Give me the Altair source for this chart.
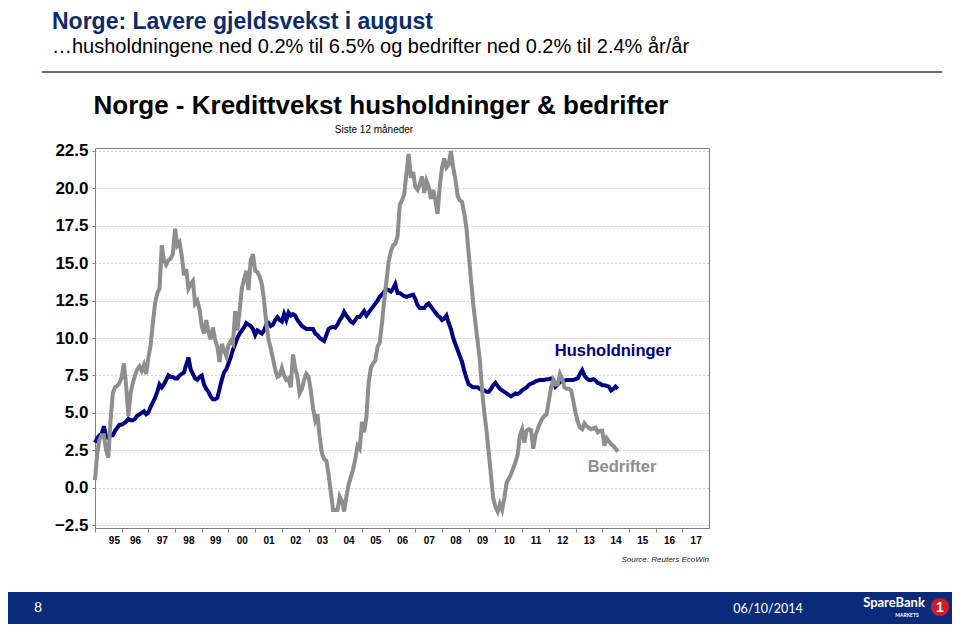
import altair as alt
import pandas as pd

# ---- data (monthly, % y/y) ----
years = list(range(1995, 2015))
hus = {
    1995: [3.0, 3.3, 3.5, 3.6, 4.1, 3.4, 3.3, 3.5, 3.5, 3.8, 4.0, 4.2],
    1996: [4.2, 4.3, 4.4, 4.6, 4.5, 4.5, 4.6, 4.8, 4.9, 5.0, 5.1, 4.9],
    1997: [5.0, 5.4, 5.7, 6.0, 6.4, 6.9, 6.7, 6.9, 7.2, 7.5, 7.4, 7.4],
    1998: [7.3, 7.3, 7.5, 7.6, 7.7, 8.2, 8.7, 7.9, 7.6, 7.3, 7.2, 7.4],
    1999: [7.5, 6.9, 6.6, 6.4, 6.1, 5.9, 5.9, 6.0, 6.6, 7.2, 7.7, 7.9],
    2000: [8.3, 8.7, 9.2, 9.6, 10.0, 10.3, 10.5, 10.7, 11.0, 10.9, 10.8, 10.6],
    2001: [10.2, 10.5, 10.4, 10.3, 10.5, 10.9, 11.0, 10.8, 10.9, 11.2, 11.4, 11.2],
    2002: [11.1, 11.6, 11.2, 11.7, 11.5, 11.6, 11.5, 11.2, 11.0, 10.8, 10.7, 10.6],
    2003: [10.6, 10.6, 10.6, 10.3, 10.2, 10.0, 9.9, 9.8, 10.2, 10.6, 10.7, 10.75],
    2004: [10.7, 10.9, 11.2, 11.4, 11.75, 11.5, 11.3, 11.1, 11.0, 11.2, 11.4, 11.4],
    2005: [11.6, 11.8, 11.5, 11.7, 11.9, 12.1, 12.3, 12.5, 12.75, 12.9, 13.1, 13.25],
    2006: [13.2, 13.1, 13.3, 13.6, 13.0, 13.0, 12.9, 12.8, 12.75, 12.8, 12.85, 12.9],
    2007: [12.6, 12.2, 12.0, 12.0, 12.0, 12.2, 12.3, 12.1, 11.9, 11.7, 11.5, 11.4],
    2008: [11.2, 11.3, 11.5, 11.0, 10.6, 10.0, 9.6, 9.2, 8.8, 8.4, 7.8, 7.3],
    2009: [6.9, 6.8, 6.7, 6.7, 6.7, 6.6, 6.5, 6.5, 6.4, 6.4, 6.6, 6.85],
    2010: [7.0, 6.8, 6.6, 6.5, 6.4, 6.3, 6.2, 6.1, 6.2, 6.3, 6.25, 6.35],
    2011: [6.5, 6.6, 6.7, 6.85, 6.95, 7.0, 7.1, 7.15, 7.2, 7.2, 7.2, 7.25],
    2012: [7.25, 7.3, 7.2, 6.75, 6.9, 7.05, 7.1, 7.15, 7.2, 7.2, 7.2, 7.2],
    2013: [7.25, 7.3, 7.6, 7.85, 7.5, 7.3, 7.2, 7.2, 7.25, 7.15, 7.0, 6.95],
    2014: [6.85, 6.85, 6.8, 6.75, 6.5, 6.6, 6.75, 6.6],
}
bed = {
    1995: [0.5, 2.3, 3.2, 3.5, 3.5, 2.5, 2.0, 4.5, 6.3, 6.7, 6.8, 7.0],
    1996: [7.4, 8.3, 6.8, 4.8, 6.3, 7.0, 7.5, 7.9, 8.1, 7.8, 8.2, 7.6],
    1997: [8.7, 9.5, 11.0, 12.3, 13.0, 13.3, 16.2, 15.2, 14.9, 15.2, 15.3, 15.6],
    1998: [17.3, 16.2, 16.4, 15.5, 14.2, 14.6, 13.3, 13.6, 13.8, 12.3, 12.5, 11.9],
    1999: [10.8, 10.3, 11.2, 10.4, 9.9, 10.7, 9.9, 9.4, 8.4, 9.6, 9.2, 8.8],
    2000: [9.5, 9.8, 9.6, 11.8, 10.5, 11.8, 13.3, 13.9, 14.5, 13.2, 15.2, 15.6],
    2001: [14.5, 14.4, 14.1, 13.6, 12.5, 11.0, 9.9, 9.3, 8.6, 7.9, 7.4, 7.5],
    2002: [8.0, 7.5, 7.2, 7.3, 6.7, 8.9, 8.0, 7.4, 6.3, 6.6, 7.2, 7.6],
    2003: [7.4, 6.5, 5.3, 4.5, 4.9, 3.4, 2.3, 1.9, 1.8, 0.9, -0.3, -1.5],
    2004: [-1.5, -1.5, -0.6, -0.9, -1.6, -0.6, 0.2, 0.7, 1.2, 1.9, 2.8, 2.6],
    2005: [4.4, 3.7, 4.7, 7.0, 8.0, 8.3, 8.5, 9.4, 9.7, 11.0, 12.5, 13.8],
    2006: [15.1, 15.8, 16.2, 16.3, 16.8, 18.9, 19.2, 19.6, 21.0, 22.3, 20.7, 21.1],
    2007: [20.1, 19.9, 20.3, 20.8, 19.7, 20.5, 20.1, 19.3, 19.9, 19.2, 18.3, 20.2],
    2008: [21.4, 22.0, 21.4, 21.6, 22.5, 21.4, 20.6, 19.5, 19.2, 19.1, 18.3, 17.3],
    2009: [15.6, 13.9, 12.3, 11.0, 9.8, 8.5, 6.5, 5.0, 3.8, 2.3, 0.8, -0.7],
    2010: [-1.3, -1.6, -1.1, -1.5, -0.7, 0.3, 0.6, 0.9, 1.3, 1.7, 2.2, 3.5],
    2011: [3.9, 3.0, 3.8, 3.9, 3.85, 2.6, 3.5, 3.9, 4.3, 4.6, 4.8, 4.9],
    2012: [5.8, 6.7, 7.2, 6.9, 6.9, 7.6, 7.3, 6.7, 6.6, 6.6, 6.5, 5.8],
    2013: [5.0, 4.4, 4.0, 3.9, 4.3, 4.1, 4.0, 3.9, 3.95, 4.0, 3.7, 3.8],
    2014: [3.8, 2.8, 3.3, 3.1, 2.9, 2.8, 2.6, 2.4],
}
x_years = list(range(1995, 2018))
y_ticks = [-2.5, 0.0, 2.5, 5.0, 7.5, 10.0, 12.5, 15.0, 17.5, 20.0, 22.5]

rows = []
for name, d in (("Husholdninger", hus), ("Bedrifter", bed)):
    for yr in years:
        for i, v in enumerate(d[yr]):
            rows.append({"series": name, "t": yr + i / 12.0, "v": v})
df = pd.DataFrame(rows)

W, H = 614, 380
NAVY = "#000080"
GRAY = "#8e8e8e"
FONT = "Liberation Sans"
SLIDE_FONT = "Lato"

xscale = alt.Scale(domain=[1995, 2018], nice=False, zero=False)
yscale = alt.Scale(domain=[-2.7, 22.7], nice=False, zero=False)

xaxis = alt.Axis(values=x_years, labelExpr="format(datum.value % 100, '02d')",
                 labelOffset=13.35, grid=False, domain=False, tickSize=4,
                 tickColor="#808080", labelFont=FONT, labelFontWeight="bold",
                 labelFontSize=10, labelColor="#000000", labelPadding=3, title=None)
yaxis = alt.Axis(values=y_ticks, format=".1f", grid=True, gridDash=[1, 3],
                 gridColor="#a8a8a8", domain=False, tickSize=3, tickColor="#808080",
                 labelFont=FONT, labelFontWeight="bold", labelFontSize=17,
                 labelColor="#000000", labelPadding=4, title=None)

def series_line(name, color):
    return alt.Chart(df).transform_filter(alt.datum.series == name).mark_line(
        color=color, strokeWidth=4, strokeJoin="miter").encode(
        x=alt.X("t:Q", scale=xscale, axis=xaxis),
        y=alt.Y("v:Q", scale=yscale, axis=yaxis),
    )

one = pd.DataFrame({"a": [0]})

def txt(text, x, y, **kw):
    return alt.Chart(one).mark_text(text=text, **kw).encode(
        x=alt.value(x), y=alt.value(y))

# page coords -> chart coords: (px - 95, py - 148)
layers = [
    series_line("Husholdninger", NAVY),
    series_line("Bedrifter", GRAY),
    txt("Husholdninger", 518, 203, font=FONT, fontSize=16.5, fontWeight="bold", color=NAVY),
    txt("Bedrifter", 527, 319, font=FONT, fontSize=16.5, fontWeight="bold", color=GRAY),
    txt("Norge - Kredittvekst husholdninger & bedrifter", 286, -42, font=FONT,
        fontSize=26, fontWeight="bold", color="#000000"),
    txt("Siste 12 måneder", 279, -18, font=FONT, fontSize=10, color="#000000"),
    txt("Source: Reuters EcoWin", 614, 412, font=FONT, fontSize=8, fontStyle="italic",
        align="right", color="#222222"),
    txt("Norge: Lavere gjeldsvekst i august", -43, -119, font=FONT, fontSize=23,
        fontWeight="bold", align="left", baseline="alphabetic", color="#0d2b6b"),
    txt("…husholdningene ned 0.2% til 6.5% og bedrifter ned 0.2% til 2.4% år/år", -43, -95,
        font=FONT, fontSize=20, align="left", baseline="alphabetic", color="#000000"),
    alt.Chart(one).mark_rule(color="#5d6f98", strokeWidth=2).encode(
        x=alt.value(-53), x2=alt.value(847), y=alt.value(-76)),
    alt.Chart(one).mark_rect(color="#0a2b7a").encode(
        x=alt.value(-87), x2=alt.value(857), y=alt.value(444), y2=alt.value(476)),
    txt("8", -57, 460, font=SLIDE_FONT, fontSize=14, color="#ffffff"),
    txt("06/10/2014", 673, 461, font=SLIDE_FONT, fontSize=12.5, color="#ffffff"),
    txt("SpareBank", 799, 455, font=SLIDE_FONT, fontSize=13, fontWeight="bold", color="#ffffff"),
    txt("MARKETS", 812, 467, font=SLIDE_FONT, fontSize=5, fontWeight="bold", color="#ffffff"),
    alt.Chart(one).mark_point(filled=True, shape="circle", size=330, color="#d71920", opacity=1).encode(
        x=alt.value(845), y=alt.value(459)),
    txt("1", 845, 460, font=FONT, fontSize=14, fontWeight="bold", color="#ffffff"),
]

chart = alt.layer(*layers).properties(
    width=W, height=H,
    padding={"left": 87, "top": 140, "right": 243, "bottom": 96},
    autosize=alt.AutoSizeParams(type="none"),
    background="#ffffff",
).configure_view(stroke="#808080", strokeWidth=1)

chart.save("out.html", embed_options={"renderer": "svg", "actions": False})
